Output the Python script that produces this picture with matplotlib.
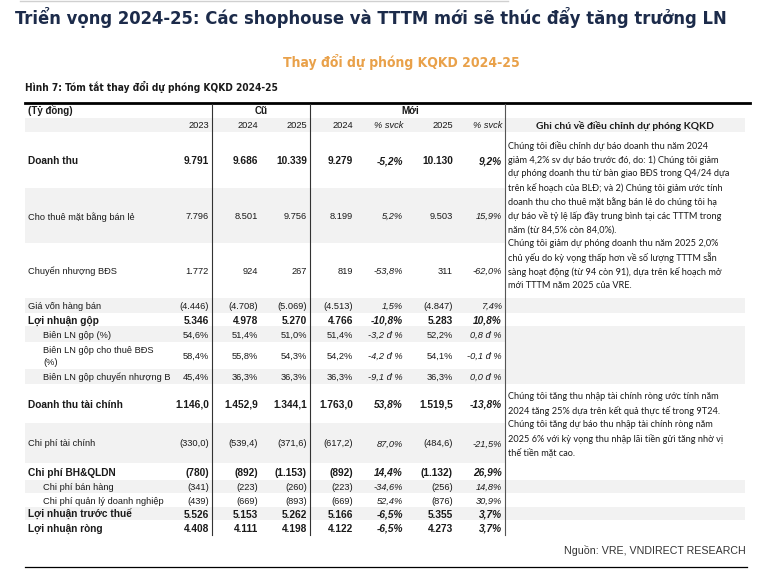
import matplotlib.pyplot as plt
from matplotlib import font_manager
from matplotlib.font_manager import FontProperties
from matplotlib.ft2font import FT2Font

# table content (values as printed in the report)
labels = ["Doanh thu", "Cho thuê mặt bằng bán lẻ", "Chuyển nhượng BĐS", "Giá vốn hàng bán",
          "Lợi nhuận gộp", "Biên LN gộp (%)", "Biên LN gộp cho thuê BĐS\n(%)",
          "Biên LN gộp chuyển nhượng B", "Doanh thu tài chính", "Chi phí tài chính",
          "Chi phí BH&QLDN", "Chi phí bán hàng", "Chi phí quản lý doanh nghiệp",
          "Lợi nhuận trước thuế", "Lợi nhuận ròng"]
bold_rows = [0, 4, 8, 10, 13, 14]
indent_rows = [5, 6, 7, 11, 12]

col_heads = ["2023", "2024", "2025", "2024", "% svck", "2025", "% svck"]
y2023 = ["9.791", "7.796", "1.772", "(4.446)", "5.346", "54,6%", "58,4%", "45,4%",
         "1.146,0", "(330,0)", "(780)", "(341)", "(439)", "5.526", "4.408"]
old2024 = ["9.686", "8.501", "924", "(4.708)", "4.978", "51,4%", "55,8%", "36,3%",
           "1.452,9", "(539,4)", "(892)", "(223)", "(669)", "5.153", "4.111"]
old2025 = ["10.339", "9.756", "267", "(5.069)", "5.270", "51,0%", "54,3%", "36,3%",
           "1.344,1", "(371,6)", "(1.153)", "(260)", "(893)", "5.262", "4.198"]
new2024 = ["9.279", "8.199", "819", "(4.513)", "4.766", "51,4%", "54,2%", "36,3%",
           "1.763,0", "(617,2)", "(892)", "(223)", "(669)", "5.166", "4.122"]
yoy2024 = ["-5,2%", "5,2%", "-53,8%", "1,5%", "-10,8%", "-3,2 đ %", "-4,2 đ %", "-9,1 đ %",
           "53,8%", "87,0%", "14,4%", "-34,6%", "52,4%", "-6,5%", "-6,5%"]
new2025 = ["10.130", "9.503", "311", "(4.847)", "5.283", "52,2%", "54,1%", "36,3%",
           "1.519,5", "(484,6)", "(1.132)", "(256)", "(876)", "5.355", "4.273"]
yoy2025 = ["9,2%", "15,9%", "-62,0%", "7,4%", "10,8%", "0,8 đ %", "-0,1 đ %", "0,0 đ %",
           "-13,8%", "-21,5%", "26,9%", "14,8%", "30,9%", "3,7%", "3,7%"]
columns = [y2023, old2024, old2025, new2024, yoy2024, new2025, yoy2025]
italic_cols = [4, 6]

note1 = ["Chúng tôi điều chỉnh dự báo doanh thu năm 2024",
         "giảm 4,2% sv dự báo trước đó, do: 1) Chúng tôi giảm",
         "dự phóng doanh thu từ bàn giao BĐS trong Q4/24 dựa",
         "trên kế hoạch của BLĐ; và 2) Chúng tôi giảm ước tính",
         "doanh thu cho thuê mặt bằng bán lẻ do chúng tôi hạ",
         "dự báo về tỷ lệ lấp đầy trung bình tại các TTTM trong",
         "năm (từ 84,5% còn 84,0%).",
         "Chúng tôi giảm dự phóng doanh thu năm 2025 2,0%",
         "chủ yếu do kỳ vọng thấp hơn về số lượng TTTM sẵn",
         "sàng hoạt động (từ 94 còn 91), dựa trên kế hoạch mở",
         "mới TTTM năm 2025 của VRE."]
note2 = ["Chúng tôi tăng thu nhập tài chính ròng ước tính năm",
         "2024 tăng 25% dựa trên kết quả thực tế trong 9T24.",
         "Chúng tôi tăng dự báo thu nhập tài chính ròng năm",
         "2025 6% với kỳ vọng thu nhập lãi tiền gửi tăng nhờ vị",
         "thế tiền mặt cao."]
notes = [(0, 2, note1), (8, 9, note2)]  # first row, last row, text lines

title = "Triển vọng 2024-25: Các shophouse và TTTM mới sẽ thúc đẩy tăng trưởng LN"
subtitle = "Thay đổi dự phóng KQKD 2024-25"
caption = "Hình 7: Tóm tắt thay đổi dự phóng KQKD 2024-25"

# layout (pixels)
W, H = 778, 581
row_h = [56, 55, 55, 15, 13, 16, 27, 15, 39, 40, 17, 13, 14, 13, 15]
col_right = [209, 258, 307, 353, 403, 453, 502]
note_shade = [3, 5, 6, 7, 11, 13]


def covers(fname, text):
    try:
        cmap = FT2Font(fname).get_charmap()
    except Exception:
        return False
    return all(ord(c) in cmap for c in set(text) if c != " ")


def pick_narrow_bold(text):
    # narrow/condensed bold face that has every Vietnamese glyph, else Liberation Sans bold
    fl = font_manager.fontManager.ttflist
    good = []
    for f in fl:
        narrowish = ("Narrow" in f.name or "Condensed" in f.name
                     or f.stretch in ("condensed", "semi-condensed"))
        if narrowish and f.weight in (600, 700, "bold", "semibold") and f.style == "normal":
            if covers(f.fname, text):
                good.append(f)
    if good:
        return FontProperties(fname=good[0].fname)
    return FontProperties(family="Liberation Sans", weight="bold")


tfont = "Liberation Sans"
nfont = "Lato"
grey = "#F2F2F2"
ink = "#1a1a1a"

fig = plt.figure(figsize=(7.78, 5.81), dpi=100)
ax = fig.add_axes([0, 0, 1, 1])
ax.set_xlim(0, W)
ax.set_ylim(H, 0)
ax.axis("off")


def fit(t, width):
    r = fig.canvas.get_renderer()
    w = t.get_window_extent(renderer=r).width
    t.set_fontsize(t.get_fontsize() * width / w)


# headings
hb = pick_narrow_bold(title + subtitle + caption)
ax.plot([20, 508], [1, 1], color="#d0d0d0", lw=1)
t1 = ax.text(15, 18, title, fontproperties=hb, fontsize=15, color="#1C2B4A", va="center")
fit(t1, 713)
t2 = ax.text(401, 62, subtitle, fontproperties=hb, fontsize=11, color="#E9A14A",
             ha="center", va="center")
fit(t2, 237)
t3 = ax.text(25, 87, caption, fontproperties=hb, fontsize=7.5, color=ink, va="center")
fit(t3, 252)

# row bands
tops = [132]
for h in row_h:
    tops.append(tops[-1] + h)
ax.axhspan(118, 132, xmin=25 / W, xmax=745 / W, color=grey, lw=0)
for i, h in enumerate(row_h):
    if i % 2 == 1:
        ax.axhspan(tops[i], tops[i] + h, xmin=25 / W, xmax=505 / W, color=grey, lw=0)
    if i in note_shade:
        ax.axhspan(tops[i], tops[i] + h, xmin=505 / W, xmax=745 / W, color=grey, lw=0)

# rules
ax.plot([25, 750], [103, 103], color="black", lw=2)
ax.plot([25, 747], [567, 567], color="black", lw=0.9)
for x, c in [(212, "#333333"), (310, "#333333"), (505, "#555555")]:
    ax.plot([x, x], [104, tops[-1]], color=c, lw=0.8)

# header rows
fs, fb = 6.7, 7.3
ax.text(28, 111, "(Tỷ đồng)", family=tfont, fontweight="bold", fontsize=fs + 0.3, color=ink, va="center")
ax.text(261, 111, "Cũ", family=tfont, fontweight="bold", fontsize=fs + 0.3, color=ink, ha="center", va="center")
ax.text(410, 111, "Mới", family=tfont, fontweight="bold", fontsize=fs + 0.3, color=ink, ha="center", va="center")
for j, head in enumerate(col_heads):
    ax.text(col_right[j], 126, head, family=tfont, fontsize=fs, color=ink, ha="right", va="center",
            style="italic" if j in italic_cols else "normal")
ax.text(625, 126, "Ghi chú về điều chỉnh dự phóng KQKD", family=nfont, fontweight="bold",
        fontsize=7.4, color=ink, ha="center", va="center")

# body
for i, lab in enumerate(labels):
    yc = tops[i] + row_h[i] / 2 + 1
    bold = i in bold_rows
    wt = "bold" if bold else "normal"
    size = fb if bold else fs
    x0 = 43 if i in indent_rows else 28
    ax.text(x0, yc, lab, family=tfont, fontweight=wt, fontsize=size, color=ink, va="center",
            linespacing=1.35)
    for j, col in enumerate(columns):
        ax.text(col_right[j], yc, col[i], family=tfont, fontweight=wt, fontsize=size, color=ink,
                ha="right", va="center", style="italic" if j in italic_cols else "normal")

# notes
for r0, r1, lines in notes:
    mid = (tops[r0] + tops[r1 + 1]) / 2
    first = mid - (len(lines) - 1) * 14 / 2
    for k, line in enumerate(lines):
        ax.text(508, first + k * 14 + 1, line, family=nfont, fontsize=6.6, color=ink, va="center")

ax.text(746, 551, "Nguồn: VRE, VNDIRECT RESEARCH", family=tfont, fontsize=7.7, color="#333333",
        ha="right", va="center")

fig.savefig("out.png", dpi=100)
